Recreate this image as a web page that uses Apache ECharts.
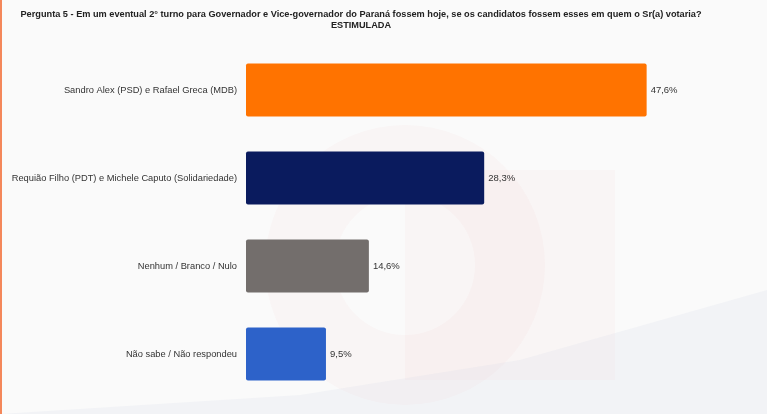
<!DOCTYPE html>
<html>
<head>
<meta charset="utf-8">
<script src="https://cdn.jsdelivr.net/npm/echarts@6/dist/echarts.min.js"></script>
<style>
  html, body { margin: 0; padding: 0; background: #fafafa; }
  #chart { width: 767px; height: 414px; }
</style>
</head>
<body>
<div id="chart"></div>
<script>
// data
const categories = [
  "Sandro Alex (PSD) e Rafael Greca (MDB)",
  "Requião Filho (PDT) e Michele Caputo (Solidariedade)",
  "Nenhum / Branco / Nulo",
  "Não sabe / Não respondeu"
];
const values = [47.6, 28.3, 14.6, 9.5];
const barColors = ["#ff7300", "#0a1b5e", "#736e6c", "#2d62c9"];
const titleText = "Pergunta 5 - Em um eventual 2° turno para Governador e Vice-governador do Paraná fossem hoje, se os candidatos fossem esses em quem o Sr(a) votaria?\nESTIMULADA";

const chart = echarts.init(document.getElementById("chart"));

const option = {
  backgroundColor: "#fafafa",
  animation: false,
  textStyle: { fontFamily: "Liberation Sans, Arial, sans-serif" },
  graphic: [
    // faint watermark + background shapes
    {
      type: "ring", z: -10, silent: true,
      shape: { cx: 405, cy: 265, r: 140, r0: 70 },
      style: { fill: "rgba(230,60,40,0.025)" }
    },
    {
      type: "rect", z: -10, silent: true,
      shape: { x: 405, y: 170, width: 210, height: 210 },
      style: { fill: "rgba(230,60,40,0.025)" }
    },
    {
      type: "polygon", z: -9, silent: true,
      shape: { points: [[0, 414], [300, 395], [520, 360], [767, 290], [767, 414]] },
      style: { fill: "rgba(200,210,230,0.15)" }
    },
    {
      type: "rect", z: 10, silent: true,
      shape: { x: 0, y: 0, width: 2, height: 414 },
      style: { fill: "#f4875a" }
    }
  ],
  title: {
    text: titleText,
    left: 356,
    top: 4,
    textAlign: "center",
    textStyle: {
      fontSize: 9.2,
      fontWeight: "bold",
      color: "#222",
      lineHeight: 11
    }
  },
  grid: { left: 246, right: 16, top: 46, bottom: 16, containLabel: false },
  xAxis: {
    type: "value",
    min: 0,
    max: 60,
    show: false
  },
  yAxis: {
    type: "category",
    inverse: true,
    data: categories,
    axisLine: { show: false },
    axisTick: { show: false },
    axisLabel: { fontSize: 9.3, color: "#333", margin: 9 }
  },
  series: [{
    type: "bar",
    barWidth: "60%",
    data: values.map((v, i) => ({
      value: v,
      itemStyle: { color: barColors[i], borderRadius: 2 }
    })),
    label: {
      show: true,
      position: "right",
      distance: 4,
      fontSize: 9.5,
      color: "#333",
      formatter: p => p.value.toFixed(1).replace(".", ",") + "%"
    }
  }]
};

chart.setOption(option);
</script>
</body>
</html>
